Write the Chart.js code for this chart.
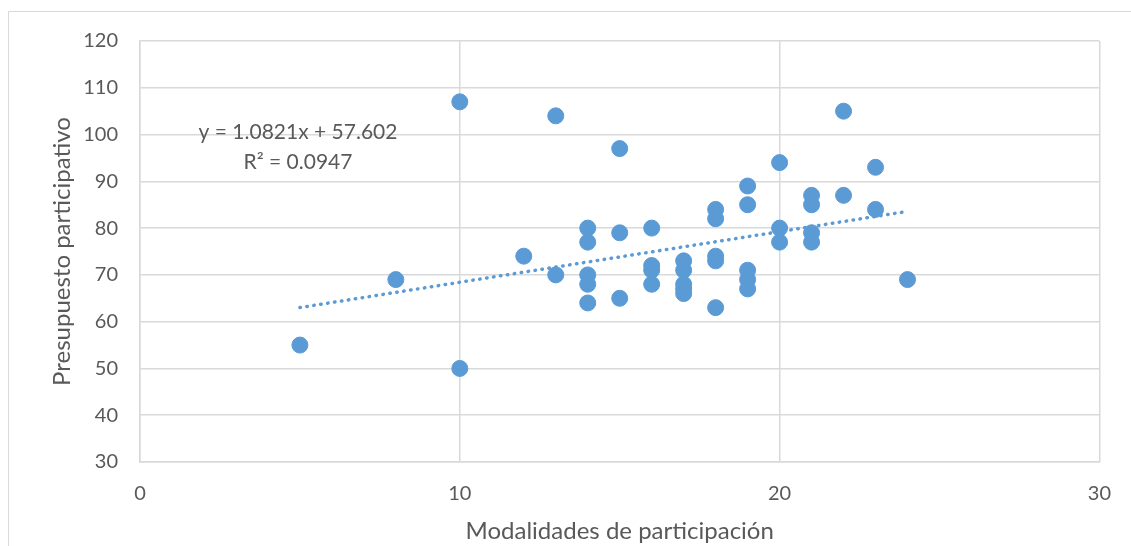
<!DOCTYPE html>
<html>
<head>
<meta charset="utf-8">
<script src="https://cdn.jsdelivr.net/npm/chart.js@4.4.1/dist/chart.umd.min.js"></script>
<style>
  html, body { margin: 0; padding: 0; background: #fff; }
  #wrap { width: 1131px; height: 546px; }
</style>
</head>
<body>
<div id="wrap"><canvas id="chart" width="1131" height="546"></canvas></div>
<script>
// data
const modalidades = [5, 8, 10, 10, 12, 13, 13, 14, 14, 14, 14, 14, 15, 15, 15,
  16, 16, 16, 16, 17, 17, 17, 17, 17, 18, 18, 18, 18, 18, 19, 19, 19, 19, 19,
  20, 20, 20, 21, 21, 21, 21, 22, 22, 23, 23, 24];
const presupuesto = [55, 69, 107, 50, 74, 104, 70, 80, 77, 70, 68, 64, 97, 79, 65,
  80, 72, 71, 68, 73, 71, 68, 67, 66, 84, 82, 74, 73, 63, 89, 85, 71, 69, 67,
  94, 80, 77, 87, 85, 79, 77, 105, 87, 93, 84, 69];

// trendline from the equation printed on the chart
const trendSlope = 1.0821;
const trendIntercept = 57.602;
const trendX = [5, 24];
const equationLines = ['y = 1.0821x + 57.602', 'R² = 0.0947'];

const xTicks = [0, 10, 20, 30];
const yTicks = [30, 40, 50, 60, 70, 80, 90, 100, 110, 120];

const blue = '#5b9bd5';
const gridColor = '#d9d9d9';
const textColor = '#595959';
const fontFamily = 'Lato, "Open Sans", sans-serif';

const points = modalidades.map((x, i) => ({ x: x, y: presupuesto[i] }));
const trend = trendX.map(x => ({ x: x, y: trendSlope * x + trendIntercept }));

// outer frame and the trendline label
const extras = {
  id: 'extras',
  beforeDraw(chart) {
    const c = chart.ctx;
    c.save();
    c.strokeStyle = gridColor;
    c.lineWidth = 1;
    c.beginPath();
    c.moveTo(8.5, 546);
    c.lineTo(8.5, 11.5);
    c.lineTo(1131, 11.5);
    c.stroke();
    c.restore();
  },
  afterDraw(chart) {
    const c = chart.ctx;
    c.save();
    c.fillStyle = textColor;
    c.font = '21px ' + fontFamily;
    c.textAlign = 'center';
    c.textBaseline = 'alphabetic';
    c.fillText(equationLines[0], 298, 139);
    c.fillText(equationLines[1], 298, 169);
    c.restore();
  }
};

new Chart(document.getElementById('chart'), {
  type: 'scatter',
  data: {
    datasets: [
      {
        label: 'Presupuesto participativo',
        data: points,
        backgroundColor: blue,
        borderColor: blue,
        pointRadius: 8,
        pointHoverRadius: 8,
        order: 2
      },
      {
        type: 'line',
        label: 'Lineal',
        data: trend,
        borderColor: blue,
        borderWidth: 3.5,
        borderDash: [0.5, 6.5],
        borderCapStyle: 'round',
        pointRadius: 0,
        fill: false,
        order: 1
      }
    ]
  },
  options: {
    responsive: false,
    animation: false,
    layout: { padding: { left: 10, top: 41, right: 26, bottom: 0 } },
    plugins: {
      legend: { display: false },
      tooltip: { enabled: false }
    },
    scales: {
      x: {
        type: 'linear',
        min: 0,
        max: 30,
        afterBuildTicks: (axis) => { axis.ticks = xTicks.map(v => ({ value: v })); },
        afterFit: (axis) => { axis.height = 84; },
        grid: { color: gridColor, lineWidth: 1.5, drawTicks: false },
        border: { color: gridColor, width: 1.5 },
        ticks: { color: textColor, font: { family: fontFamily, size: 20 }, padding: 20 },
        title: {
          display: true,
          text: 'Modalidades de participación',
          color: textColor,
          font: { family: fontFamily, size: 24 },
          padding: { top: 0, bottom: 0 }
        }
      },
      y: {
        min: 30,
        max: 120,
        afterBuildTicks: (axis) => { axis.ticks = yTicks.map(v => ({ value: v })); },
        afterFit: (axis) => { axis.width = 130; },
        grid: { color: gridColor, lineWidth: 1.5, drawTicks: false },
        border: { color: gridColor, width: 1.5 },
        ticks: { color: textColor, font: { family: fontFamily, size: 20 }, padding: 22 },
        title: {
          display: true,
          text: 'Presupuesto participativo',
          color: textColor,
          font: { family: fontFamily, size: 24 },
          padding: { top: 38, bottom: 0 }
        }
      }
    }
  },
  plugins: [extras]
});
</script>
</body>
</html>
